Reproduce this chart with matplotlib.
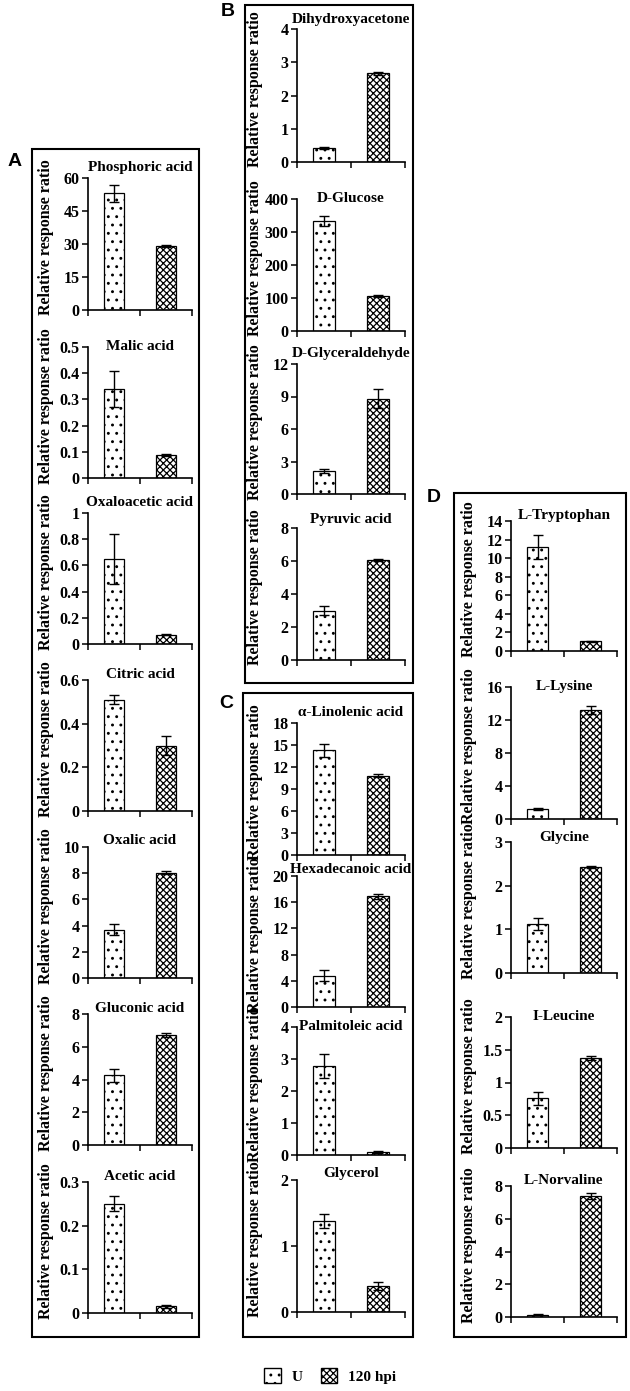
import matplotlib
matplotlib.use("Agg")
import matplotlib.pyplot as plt
from matplotlib.patches import Rectangle, Patch

W, H = 630, 1391

# ---- data (mean, error) for U and 120 hpi ----
names_a = ["Phosphoric acid", "Malic acid", "Oxaloacetic acid", "Citric acid",
           "Oxalic acid", "Gluconic acid", "Acetic acid"]
u_a = [53, 0.34, 0.65, 0.51, 3.7, 4.25, 0.25]
u_err_a = [3.8, 0.07, 0.19, 0.02, 0.4, 0.4, 0.017]
h_a = [29, 0.088, 0.07, 0.30, 8.05, 6.7, 0.015]
h_err_a = [0.5, 0.003, 0.005, 0.045, 0.1, 0.12, 0.003]
ymax_a = [60, 0.5, 1, 0.6, 10, 8, 0.3]
ystep_a = [15, 0.1, 0.2, 0.2, 2, 2, 0.1]

names_b = ["Dihydroxyacetone", "D-Glucose", "D-Glyceraldehyde", "Pyruvic acid"]
u_b = [0.42, 333, 2.1, 3.0]
u_err_b = [0.03, 15, 0.2, 0.25]
h_b = [2.67, 106, 8.8, 6.05]
h_err_b = [0.04, 2, 0.9, 0.05]
ymax_b = [4, 400, 12, 8]
ystep_b = [1, 100, 3, 2]

names_c = ["α-Linolenic acid", "Hexadecanoic acid", "Palmitoleic acid", "Glycerol"]
u_c = [14.3, 4.8, 2.78, 1.38]
u_err_c = [0.9, 0.8, 0.37, 0.1]
h_c = [10.8, 16.9, 0.08, 0.39]
h_err_c = [0.2, 0.4, 0.03, 0.06]
ymax_c = [18, 20, 4, 2]
ystep_c = [3, 4, 1, 1]

names_d = ["L-Tryptophan", "L-Lysine", "Glycine", "I-Leucine", "L-Norvaline"]
u_d = [11.2, 1.2, 1.12, 0.76, 0.15]
u_err_d = [1.25, 0.1, 0.14, 0.1, 0.02]
h_d = [1.05, 13.2, 2.43, 1.37, 7.4]
h_err_d = [0.05, 0.45, 0.02, 0.03, 0.2]
ymax_d = [14, 16, 3, 2, 8]
ystep_d = [2, 4, 1, 0.5, 2]

groups = ["U", "120 hpi"]

# ---- layout in pixels: (left, right, [(top, bottom), ...]) ----
layout_a = (88, 192, [(178, 310), (347, 478), (513, 644), (680, 811),
                      (847, 978), (1014, 1145), (1182, 1313)])
layout_b = (297, 405, [(29, 162), (199, 331), (364, 494), (528, 660)])
layout_c = (297, 405, [(723, 855), (876, 1007), (1027, 1155), (1180, 1312)])
layout_d = (511, 617, [(521, 651), (687, 819), (842, 973), (1017, 1148), (1186, 1317)])
title_up_a = [10, 0, 10, 6, 6, 6, 6]
title_up_b = [10, 0, 10, 8]
title_up_c = [10, 6, 0, 6]
title_up_d = [5, 0, 5, 0, 5]

boxes = {"A": (32, 149, 199, 1337), "B": (245, 5, 413, 683),
         "C": (243, 693, 413, 1337), "D": (454, 493, 626, 1337)}
letters = {"A": (15, 162), "B": (228, 11), "C": (226, 704), "D": (434, 498)}

plt.rcParams["font.family"] = ["Liberation Serif", "DejaVu Serif"]
plt.rcParams["font.weight"] = "bold"
plt.rcParams["hatch.linewidth"] = 0.9

fig = plt.figure(figsize=(W / 100, H / 100), dpi=100)


def draw_panel(layout, names, u, ue, h, he, ymax, ystep, title_up):
    left, right, rows = layout
    for i, (top, bottom) in enumerate(rows):
        ax = fig.add_axes([left / W, 1 - bottom / H, (right - left) / W, (bottom - top) / H])
        ax.bar([0], [u[i]], width=0.4, color="white", edgecolor="black",
               linewidth=0.9, hatch="..")
        ax.bar([1], [h[i]], width=0.4, color="white", edgecolor="black",
               linewidth=0.9, hatch="xxxxx")
        ax.errorbar([0, 1], [u[i], h[i]], yerr=[ue[i], he[i]], fmt="none",
                    ecolor="black", elinewidth=1, capsize=3.5, capthick=1)
        ax.set_xlim(-0.5, 1.5)
        ax.set_ylim(0, ymax[i])
        n = int(round(ymax[i] / ystep[i]))
        ticks = [k * ystep[i] for k in range(n + 1)]
        ax.set_yticks(ticks)
        ax.set_yticklabels([f"{t:g}" for t in ticks], fontsize=11.5, fontweight="bold")
        ax.set_xticks([-0.5, 0.5, 1.5])
        ax.set_xticklabels([])
        ax.tick_params(axis="both", direction="out", length=4, width=1.1, pad=2)
        for s in ["top", "right"]:
            ax.spines[s].set_visible(False)
        for s in ["left", "bottom"]:
            ax.spines[s].set_linewidth(1.2)
        ax.set_ylabel("Relative response ratio", fontsize=11.5, fontweight="bold")
        ax.yaxis.set_label_coords(-34 / (right - left), 0.55)
        ax.text(0.5, 1 + title_up[i] / (bottom - top), names[i], transform=ax.transAxes,
                ha="center", va="center", fontsize=11, fontweight="bold")


draw_panel(layout_a, names_a, u_a, u_err_a, h_a, h_err_a, ymax_a, ystep_a, title_up_a)
draw_panel(layout_b, names_b, u_b, u_err_b, h_b, h_err_b, ymax_b, ystep_b, title_up_b)
draw_panel(layout_c, names_c, u_c, u_err_c, h_c, h_err_c, ymax_c, ystep_c, title_up_c)
draw_panel(layout_d, names_d, u_d, u_err_d, h_d, h_err_d, ymax_d, ystep_d, title_up_d)

# panel frames and letters
for key, (x0, y0, x1, y1) in boxes.items():
    fig.patches.append(Rectangle((x0 / W, 1 - y1 / H), (x1 - x0) / W, (y1 - y0) / H,
                                 transform=fig.transFigure, fill=False,
                                 edgecolor="black", linewidth=1.5))
    lx, ly = letters[key]
    fig.text(lx / W, 1 - ly / H, key, ha="center", va="center", fontsize=14,
             fontweight="bold", family="Liberation Sans")

handles = [Patch(facecolor="white", edgecolor="black", hatch="..", label=groups[0]),
           Patch(facecolor="white", edgecolor="black", hatch="xxxxx", label=groups[1])]
fig.legend(handles=handles, loc="center", bbox_to_anchor=(330 / W, 1 - 1376 / H), ncol=2,
           frameon=False, prop={"weight": "bold", "size": 11}, handlelength=1.1,
           handleheight=1.1, columnspacing=1.2, handletextpad=0.7)

fig.savefig("out.png", dpi=100)
